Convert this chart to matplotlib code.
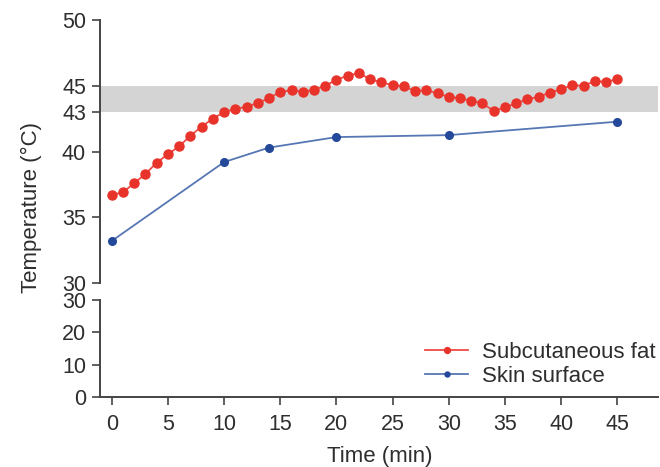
import numpy as np
import matplotlib.pyplot as plt

plt.rcParams['font.family'] = ['Liberation Sans', 'DejaVu Sans']

# subcutaneous fat, one reading per minute
fat_t = list(range(0, 46))
fat_temp = [36.7, 36.9, 37.6, 38.3, 39.15, 39.8, 40.4, 41.2, 41.9, 42.5,
            43.0, 43.25, 43.4, 43.7, 44.05, 44.55, 44.65, 44.55, 44.7, 45.0,
            45.46, 45.77, 45.97, 45.5, 45.26, 45.05, 44.98, 44.58, 44.68, 44.42,
            44.17, 44.05, 43.87, 43.67, 43.08, 43.36, 43.67, 43.97, 44.17, 44.47,
            44.75, 45.05, 45.0, 45.36, 45.3, 45.5]

# skin surface
skin_t = [0, 10, 14, 20, 30, 45]
skin_temp = [33.2, 39.2, 40.3, 41.1, 41.25, 42.27]

band = (43, 45)
x_ticks = [0, 5, 10, 15, 20, 25, 30, 35, 40, 45]

red_line = '#f04a45'
red_mark = '#e8332b'
blue_line = '#5676b4'
blue_mark = '#24489a'
txt = '#2e2e2e'
spine_c = '#444444'
fs = 15.5

fig = plt.figure(figsize=(6.6, 4.67), dpi=100)
ax1 = fig.add_axes([0.1515, 0.394, 0.845, 0.563])
ax2 = fig.add_axes([0.1515, 0.150, 0.845, 0.208])

for ax in (ax1, ax2):
    ax.axhspan(band[0], band[1], color='#d4d4d4', lw=0, zorder=0)
    ax.plot(fat_t, fat_temp, '-o', color=red_line, mfc=red_mark, mec=red_mark,
            ms=6.5, lw=1.3, label='Subcutaneous fat')
    ax.plot(skin_t, skin_temp, '-o', color=blue_line, mfc=blue_mark, mec=blue_mark,
            ms=5.5, lw=1.3, label='Skin surface')
    ax.set_xlim(-1.05, 48.6)
    for s in ('top', 'right'):
        ax.spines[s].set_visible(False)
    for s in ('left', 'bottom'):
        ax.spines[s].set_color(spine_c)
        ax.spines[s].set_linewidth(1.4)
    ax.tick_params(colors=spine_c, labelcolor=txt, labelsize=fs,
                   length=6, width=1.2, direction='out', pad=4)
    ax.tick_params(axis='x', pad=6)

ax1.set_ylim(30, 50)
ax1.set_yticks([30, 35, 40, 43, 45, 50])
ax1.spines['bottom'].set_visible(False)
ax1.tick_params(axis='x', bottom=False, labelbottom=False)

ax2.set_ylim(0, 30)
ax2.set_yticks([0, 10, 20, 30])
ax2.set_xticks(x_ticks)

fig.legend(*ax2.get_legend_handles_labels(), loc='upper left', frameon=False,
           fontsize=16, labelcolor=txt, handlelength=1.95, handletextpad=0.6,
           labelspacing=0.12, borderpad=0, borderaxespad=0, markerscale=0.65,
           bbox_to_anchor=(425 / 660, 1 - 342 / 467))

fig.text(0.047, 0.555, 'Temperature (°C)', rotation=90, va='center', ha='center',
         fontsize=16, color=txt)
fig.text(0.576, 0.022, 'Time (min)', ha='center', va='center', fontsize=16, color=txt)

fig.savefig('out.png', dpi=100)
